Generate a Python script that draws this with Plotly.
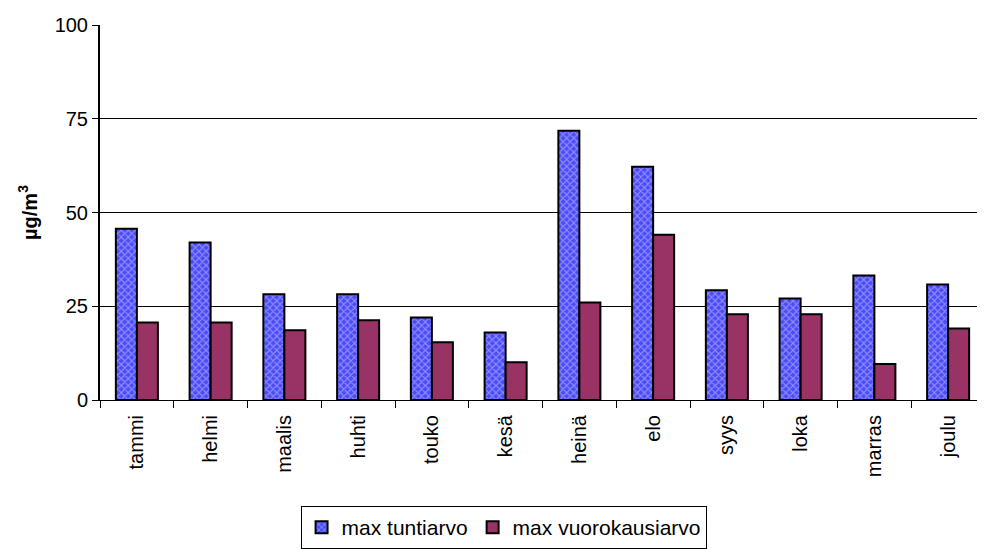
import plotly.graph_objects as go

months = ["tammi", "helmi", "maalis", "huhti", "touko", "kesä", "heinä", "elo", "syys", "loka", "marras", "joulu"]
max_tunti = [45.7, 42.0, 28.2, 28.2, 22.0, 18.0, 71.8, 62.2, 29.3, 27.1, 33.2, 30.8]
max_vuoro = [20.7, 20.7, 18.6, 21.3, 15.4, 10.1, 26.0, 44.1, 22.9, 22.9, 9.6, 19.1]
y_ticks = [0, 25, 50, 75, 100]

font = "Liberation Sans, Arial, sans-serif"

fig = go.Figure()
fig.add_trace(go.Bar(
    x=months, y=max_tunti, name="max tuntiarvo",
    marker=dict(color="#4a4aff",
                pattern=dict(shape="x", fgcolor="#d4d4e0", bgcolor="#4a4aff", size=5, solidity=0.4, fillmode="overlay"),
                line=dict(color="black", width=2)),
))
fig.add_trace(go.Bar(
    x=months, y=max_vuoro, name="max vuorokausiarvo",
    marker=dict(color="#993366", line=dict(color="black", width=2)),
))

fig.update_layout(
    width=977, height=541,
    margin=dict(l=92, r=0, t=17, b=148),
    plot_bgcolor="white", paper_bgcolor="white",
    barmode="group", bargap=0.43, bargroupgap=0,
    font=dict(family=font, size=20, color="black"),
    showlegend=True,
    legend=dict(orientation="h", x=0.456, xanchor="center", y=-0.283, yanchor="top",
                bordercolor="black", borderwidth=1, font=dict(size=21),
                itemwidth=30, tracegroupgap=0),
    xaxis=dict(type="category", tickangle=-90, showline=True, linecolor="black", linewidth=1,
               ticks="outside", tickson="boundaries", ticklen=7, tickcolor="black",
               ticklabelstandoff=6,
               showgrid=False, tickfont=dict(size=20)),
    yaxis=dict(range=[0, 100], tickvals=y_ticks, ticktext=[str(v) for v in y_ticks],
               showline=True, linecolor="black", linewidth=2,
               ticks="outside", ticklen=6, tickcolor="black",
               showgrid=True, gridcolor="black", gridwidth=1, zeroline=False,
               tickfont=dict(size=20),
               title=dict(text="<b>µg/m<sup>3</sup></b>", font=dict(size=20), standoff=12)),
)

fig.write_html("out.html")
